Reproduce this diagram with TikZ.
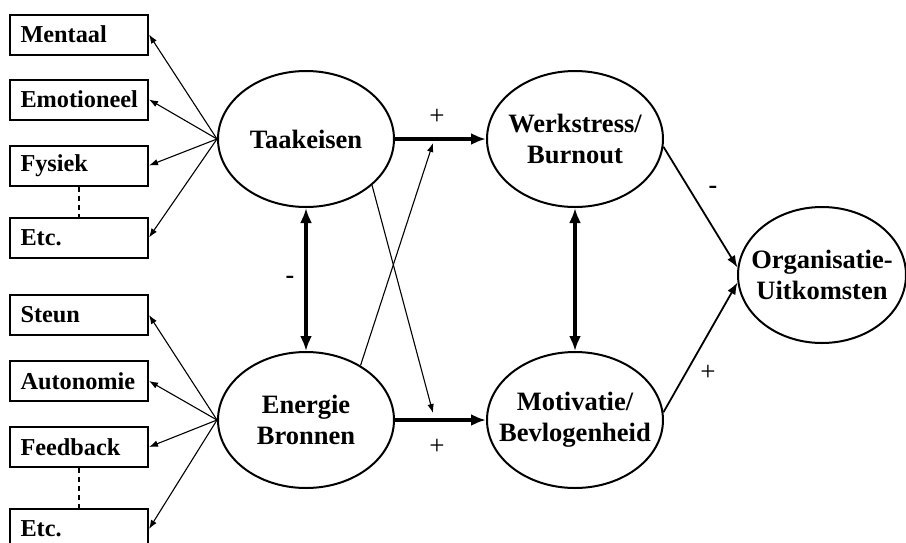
\documentclass[tikz,border=0pt]{standalone}
\usepackage{fontspec}
\setmainfont{Liberation Serif}
\usetikzlibrary{arrows.meta,shapes.geometric,positioning}

\begin{document}
\begin{tikzpicture}[x=1pt,y=-1pt,semithick]
	\tikzstyle{factor}=[draw, ellipse, line width=2pt, minimum width=176pt, minimum height=136pt, inner xsep=-30pt, inner ysep=0pt, align=center, font=\fontsize{26.5}{31}\selectfont\bfseries]
	\tikzstyle{item}=[draw, rectangle, line width=2pt, minimum height=40pt, text width=117pt, inner xsep=10.5pt, align=left, font=\fontsize{24.3}{28}\selectfont\bfseries]
	\tikzstyle{fan}=[-{Latex[length=9pt,width=6.5pt]}, line width=1.1pt]
	\tikzstyle{main}=[line width=3.2pt]
	\tikzstyle{sign}=[font=\fontsize{27}{27}\selectfont]
	\tikzstyle{minus}=[font=\fontsize{26}{26}\selectfont\bfseries]
	\useasboundingbox (0,0) rectangle (906,542);
	% latente factoren
	\node[factor] (taak)  at (306,139) {Taakeisen};
	\node[factor] (bron)  at (306,420) {Energie\\Bronnen};
	\node[factor] (werk)  at (575,139) {Werkstress/\\Burnout};
	\node[factor] (motiv) at (575,420) {Motivatie/\\Bevlogenheid};
	\node[factor, minimum width=168pt] (org) at (822,275) {Organisatie-\\Uitkomsten};
	% indicatoren
	\node[item] (ment) at (79,34.5)       {Mentaal};
	\node[item] (emo)  [below=23pt of ment] {Emotioneel};
	\node[item] (fys)  [below=24pt of emo]  {Fysiek};
	\node[item] (etc1) [below=30pt of fys]  {Etc.};
	\node[item] (steun) at (79,315)        {Steun};
	\node[item] (auto) [below=24pt of steun] {Autonomie};
	\node[item] (feed) [below=24pt of auto]  {Feedback};
	\node[item] (etc2) [below=40pt of feed]  {Etc.};
	\coordinate (kruis1) at (433,413);
	\coordinate (kruis2) at (433,143);
	\path[fan]
		(taak.west) edge (ment.east)
		(taak.west) edge (emo.east)
		(taak.west) edge (fys.east)
		(taak.west) edge (etc1.east)
		(bron.west) edge (steun.east)
		(bron.west) edge (auto.east)
		(bron.west) edge (feed.east)
		(bron.west) edge (etc2.east)
		(taak.-35) edge (kruis1)
		(bron.45) edge (kruis2);
	\draw[dash pattern=on 5pt off 4pt, line width=1.2pt] (fys.south) -- (etc1.north);
	\draw[dash pattern=on 5pt off 4pt, line width=1.2pt] (feed.south) -- (etc2.north);
	\path[main, {Latex[length=15pt,width=12pt]}-{Latex[length=15pt,width=12pt]}]
		(taak.south) edge (bron.north)
		(werk.south) edge (motiv.north);
	\path[main, -{Latex[length=15pt,width=12pt]}]
		(taak.east) edge (werk.west)
		(bron.east) edge (motiv.west);
	\path[-{Latex[length=12pt,width=9pt]}, line width=1.8pt]
		(werk.-5) edge (org.175)
		(motiv.5) edge (org.185);
	% tekens
	\node[sign]  (p1) at (437,117) {+};
	\node[sign]  (p2) at (437,447) {+};
	\node[sign]  (p3) at (708,373) {+};
	\node[minus] (m1) at (290,280) {-};
	\node[minus] (m2) at (713,190) {-};
\end{tikzpicture}
\end{document}
